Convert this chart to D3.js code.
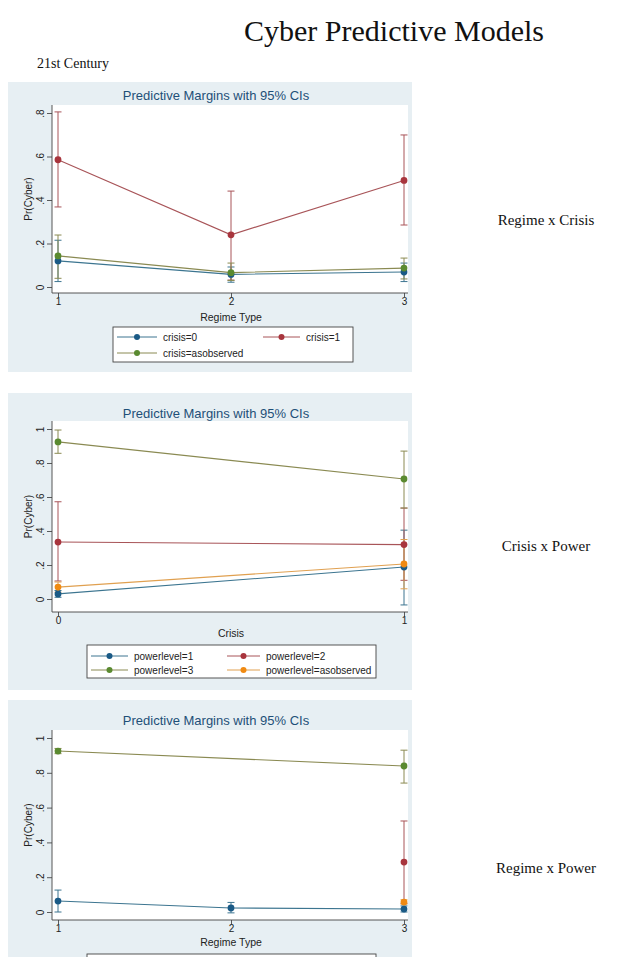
<!DOCTYPE html>
<html><head><meta charset="utf-8">
<script src="https://cdn.jsdelivr.net/npm/d3@7"></script>
<style>body{margin:0;background:#fff}</style>
</head><body><svg id="c" width="621" height="957"></svg>
<script>
// ---------- texts ----------
const pageTitle = "Cyber Predictive Models";
const subTitle = "21st Century";
const panelTitle = "Predictive Margins with 95% CIs";
const yAxisTitle = "Pr(Cyber)";
const sideLabels = ["Regime x Crisis", "Crisis x Power", "Regime x Power"];

// ---------- panel 1: Regime x Crisis ----------
const p1Categories = [1, 2, 3];
const p1XTitle = "Regime Type";
const p1YTicks = [0, 0.2, 0.4, 0.6, 0.8];
const p1Names = ["crisis=0", "crisis=1", "crisis=asobserved"];
const p1Crisis0 = [0.120, 0.058, 0.069];
const p1Crisis0Lo = [0.025, 0.022, 0.025];
const p1Crisis0Hi = [0.215, 0.092, 0.110];
const p1Crisis1 = [0.585, 0.240, 0.490];
const p1Crisis1Lo = [0.368, 0.032, 0.285];
const p1Crisis1Hi = [0.805, 0.441, 0.699];
const p1AsObs = [0.143, 0.066, 0.087];
const p1AsObsLo = [0.040, 0.030, 0.037];
const p1AsObsHi = [0.239, 0.110, 0.133];

// ---------- panel 2: Crisis x Power ----------
const p2Categories = [0, 1];
const p2XTitle = "Crisis";
const p2YTicks = [0, 0.2, 0.4, 0.6, 0.8, 1];
const p2Names = ["powerlevel=1", "powerlevel=2", "powerlevel=3", "powerlevel=asobserved"];
const p2Power1 = [0.030, 0.188];
const p2Power1Lo = [0.010, -0.035];
const p2Power1Hi = [0.050, 0.405];
const p2Power2 = [0.335, 0.320];
const p2Power2Lo = [0.106, 0.110];
const p2Power2Hi = [0.572, 0.535];
const p2Power3 = [0.924, 0.706];
const p2Power3Lo = [0.857, 0.535];
const p2Power3Hi = [0.994, 0.870];
const p2AsObs = [0.070, 0.206];
const p2AsObsLo = [0.040, 0.060];
const p2AsObsHi = [0.100, 0.350];

// ---------- panel 3: Regime x Power ----------
const p3Categories = [1, 2, 3];
const p3XTitle = "Regime Type";
const p3YTicks = [0, 0.2, 0.4, 0.6, 0.8, 1];
const p3Names = ["powerlevel=1", "powerlevel=2", "powerlevel=3", "powerlevel=asobserved"];
const p3Power1 = [0.063, 0.023, 0.017];
const p3Power1Lo = [0.000, -0.005, 0.000];
const p3Power1Hi = [0.126, 0.055, 0.035];
const p3Power2 = [null, null, 0.287];
const p3Power2Lo = [null, null, 0.050];
const p3Power2Hi = [null, null, 0.523];
const p3Power3 = [0.925, null, 0.839];
const p3Power3Lo = [0.910, null, 0.741];
const p3Power3Hi = [0.940, null, 0.930];
const p3AsObs = [null, null, 0.057];
const p3AsObsLo = [null, null, 0.045];
const p3AsObsHi = [null, null, 0.070];

// ---------- style ----------
const palette = ["#1a5a86", "#a8353d", "#5a8a30", "#f08a12"];
const lineColors = ["#3c7590", "#a85458", "#8a8a52", "#e0a050"];
const bgColor = "#e7eff3";
const serif = "'Liberation Serif', 'Times New Roman', serif";
const sans = "'Liberation Sans', Arial, sans-serif";
const pageH = 957;

function mk(names, cats, arrs) {
  return names.map((n, i) => ({
    name: n,
    pts: cats.map((c, j) => ({x: c, m: arrs[i][0][j], lo: arrs[i][1][j], hi: arrs[i][2][j]}))
      .filter(d => d.m !== null)
  }));
}

const panels = [
  {
    cats: p1Categories, xTitle: p1XTitle, yTicks: p1YTicks,
    series: mk(p1Names, p1Categories, [[p1Crisis0, p1Crisis0Lo, p1Crisis0Hi], [p1Crisis1, p1Crisis1Lo, p1Crisis1Hi], [p1AsObs, p1AsObsLo, p1AsObsHi]]),
    colorIdx: [0, 1, 2],
    bg: [8, 82, 404, 290], plot: [52, 408, 105, 293],
    yDom: [0, 0.8], yRange: [287, 113], titleY: 95, xTitleY: 317,
    legend: {box: [113, 327, 240, 35], cols: [117, 263], lineW: [40, 37], rows: [337, 353]},
    side: [546, 225]
  },
  {
    cats: p2Categories, xTitle: p2XTitle, yTicks: p2YTicks,
    series: mk(p2Names, p2Categories, [[p2Power1, p2Power1Lo, p2Power1Hi], [p2Power2, p2Power2Lo, p2Power2Hi], [p2Power3, p2Power3Lo, p2Power3Hi], [p2AsObs, p2AsObsLo, p2AsObsHi]]),
    colorIdx: [0, 1, 2, 3],
    bg: [8, 393, 404, 297], plot: [52, 408, 421, 612],
    yDom: [0, 1], yRange: [599, 429], titleY: 413, xTitleY: 633,
    legend: {box: [87, 645, 289, 33], cols: [91, 227], lineW: [37, 33], rows: [656, 670]},
    side: [546, 551]
  },
  {
    cats: p3Categories, xTitle: p3XTitle, yTicks: p3YTicks,
    series: mk(p3Names, p3Categories, [[p3Power1, p3Power1Lo, p3Power1Hi], [p3Power2, p3Power2Lo, p3Power2Hi], [p3Power3, p3Power3Lo, p3Power3Hi], [p3AsObs, p3AsObsLo, p3AsObsHi]]),
    colorIdx: [0, 1, 2, 3],
    bg: [8, 700, 404, 270], plot: [52, 408, 730, 920],
    yDom: [0, 1], yRange: [912, 738], titleY: 720, xTitleY: 942,
    legend: {box: [87, 954, 289, 40], cols: [91, 227], lineW: [37, 33], rows: [965, 979]},
    side: [546, 873]
  }
];

const svg = d3.select("#c");
svg.append("rect").attr("width", 621).attr("height", pageH).attr("fill", "#fff");

svg.append("text").text(pageTitle).attr("x", 394).attr("y", 41)
  .attr("text-anchor", "middle").attr("font-family", serif).attr("font-size", 30).attr("fill", "#111");
svg.append("text").text(subTitle).attr("x", 37).attr("y", 68)
  .attr("font-family", serif).attr("font-size", 14).attr("fill", "#111");

const fmt = v => v === 0 ? "0" : (v === 1 ? "1" : d3.format(".1f")(v).replace(/^0/, ""));

panels.forEach((p, pi) => {
  const g = svg.append("g");
  const [bx, by, bw, bh] = p.bg;
  g.append("rect").attr("x", bx).attr("y", by).attr("width", bw).attr("height", bh).attr("fill", bgColor);
  const [px0, px1, py0, py1] = p.plot;
  g.append("rect").attr("x", px0).attr("y", py0).attr("width", px1 - px0).attr("height", py1 - py0).attr("fill", "#fff");

  const x = d3.scaleLinear().domain(d3.extent(p.cats)).range([58, 404]);
  const y = d3.scaleLinear().domain(p.yDom).range(p.yRange);

  // title
  g.append("text").text(panelTitle).attr("x", 216).attr("y", p.titleY).attr("dy", "0.35em")
    .attr("text-anchor", "middle").attr("font-family", sans).attr("font-size", 13).attr("fill", "#1e4f78");

  // y axis
  const ya = g.append("g").attr("transform", `translate(${px0},0)`)
    .call(d3.axisLeft(y).tickValues(p.yTicks).tickFormat(fmt).tickSize(5).tickSizeOuter(0));
  ya.select(".domain").remove();
  ya.selectAll(".tick line").attr("stroke", "#333").attr("stroke-width", 0.8);
  ya.selectAll(".tick text").attr("transform", "rotate(-90)").attr("x", 0).attr("y", -8).attr("dy", 0)
    .attr("text-anchor", "middle").attr("font-family", sans).attr("font-size", 10).attr("fill", "#222");
  g.append("line").attr("x1", px0).attr("x2", px0).attr("y1", py0).attr("y2", py1).attr("stroke", "#444").attr("stroke-width", 0.9);
  g.append("text").text(yAxisTitle).attr("transform", `translate(28,${(py0 + py1) / 2}) rotate(-90)`)
    .attr("text-anchor", "middle").attr("dy", "0.35em").attr("font-family", sans).attr("font-size", 10).attr("fill", "#222");

  // x axis
  const xa = g.append("g").attr("transform", `translate(0,${py1})`)
    .call(d3.axisBottom(x).tickValues(p.cats).tickFormat(d3.format("d")).tickSize(4).tickSizeOuter(0));
  xa.select(".domain").remove();
  xa.selectAll(".tick line").attr("stroke", "#333").attr("stroke-width", 0.8);
  xa.selectAll(".tick text").attr("font-family", sans).attr("font-size", 10).attr("fill", "#222").attr("y", 5);
  g.append("line").attr("x1", px0).attr("x2", px1).attr("y1", py1).attr("y2", py1).attr("stroke", "#444").attr("stroke-width", 0.9);
  g.append("text").text(p.xTitle).attr("x", (x.range()[0] + x.range()[1]) / 2).attr("y", p.xTitleY).attr("dy", "0.35em")
    .attr("text-anchor", "middle").attr("font-family", sans).attr("font-size", 10.5).attr("fill", "#222");

  // CIs
  p.series.forEach((s, si) => {
    const lc = lineColors[p.colorIdx[si]];
    const cg = g.append("g");
    cg.selectAll("line.v").data(s.pts).join("line").attr("class", "v")
      .attr("x1", d => x(d.x)).attr("x2", d => x(d.x)).attr("y1", d => y(d.lo)).attr("y2", d => y(d.hi))
      .attr("stroke", lc).attr("stroke-width", 1);
    ["lo", "hi"].forEach(k => {
      cg.selectAll("line." + k).data(s.pts).join("line").attr("class", k)
        .attr("x1", d => x(d.x) - 3.5).attr("x2", d => x(d.x) + 3.5).attr("y1", d => y(d[k])).attr("y2", d => y(d[k]))
        .attr("stroke", lc).attr("stroke-width", 1);
    });
  });
  // lines + markers
  const line = d3.line().x(d => x(d.x)).y(d => y(d.m));
  p.series.forEach((s, si) => {
    const col = palette[p.colorIdx[si]];
    const lc = lineColors[p.colorIdx[si]];
    if (s.pts.length > 1)
      g.append("path").datum(s.pts).attr("d", line).attr("fill", "none").attr("stroke", lc).attr("stroke-width", 1.1);
    g.selectAll(null).data(s.pts).join("circle").attr("cx", d => x(d.x)).attr("cy", d => y(d.m)).attr("r", 3.4).attr("fill", col);
  });

  // legend (entries below the page edge are not visible in the reference)
  const L = p.legend;
  g.append("rect").attr("x", L.box[0]).attr("y", L.box[1]).attr("width", L.box[2]).attr("height", L.box[3])
    .attr("fill", "#fff").attr("stroke", "#444").attr("stroke-width", 0.9);
  p.series.forEach((s, si) => {
    const c = si % 2, r = Math.floor(si / 2);
    const lx = L.cols[c], ly = L.rows[r], w = L.lineW[c];
    if (ly > pageH) return;
    g.append("line").attr("x1", lx).attr("x2", lx + w).attr("y1", ly).attr("y2", ly)
      .attr("stroke", lineColors[p.colorIdx[si]]).attr("stroke-width", 1);
    g.append("circle").attr("cx", lx + w / 2).attr("cy", ly).attr("r", 3).attr("fill", palette[p.colorIdx[si]]);
    g.append("text").text(s.name).attr("x", lx + w + 6).attr("y", ly).attr("dy", "0.35em")
      .attr("font-family", sans).attr("font-size", 10).attr("fill", "#222");
  });

  svg.append("text").text(sideLabels[pi]).attr("x", p.side[0]).attr("y", p.side[1])
    .attr("text-anchor", "middle").attr("font-family", serif).attr("font-size", 15).attr("fill", "#111");
});
</script></body></html>
